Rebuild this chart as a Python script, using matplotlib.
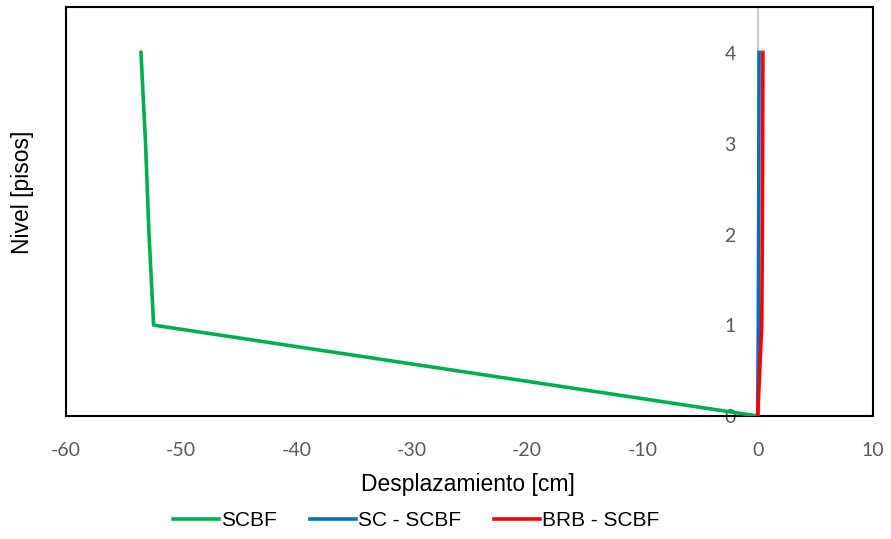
import numpy as np
import matplotlib.pyplot as plt

niveles = [0, 1, 2, 3, 4]
scbf = [0.0, -52.4, -52.8, -53.1, -53.5]
sc_scbf = [0.0, 0.05, 0.08, 0.1, 0.12]
brb_scbf = [0.0, 0.35, 0.4, 0.43, 0.45]
xticks = [-60, -50, -40, -30, -20, -10, 0, 10]
yticks = [0, 1, 2, 3, 4]

fig = plt.figure(figsize=(8.91, 5.39), dpi=100)
ax = fig.add_axes([66/891, 1-416/539, 807/891, 409/539])

ax.axvline(0, color='#BFBFBF', lw=1.2, zorder=1)
ax.plot(scbf, niveles, color='#00B050', lw=2.6, label='SCBF', zorder=3)
ax.plot(sc_scbf, niveles, color='#0070C0', lw=2.6, label='SC - SCBF', zorder=4)
ax.plot(brb_scbf, niveles, color='#FF0000', lw=2.6, label='BRB - SCBF', zorder=5)

ax.set_xlim(-60, 10)
ax.set_ylim(0, 4.5)
ax.set_xticks(xticks)
ax.set_xticklabels([str(v) for v in xticks], fontfamily='Lato', fontsize=14, color='#595959')
ax.tick_params(axis='x', length=0, pad=19)
ax.set_yticks([])
for v in yticks:
    ax.text(-2.4, v - 0.02, str(v), ha='center', va='center', fontfamily='Lato',
            fontsize=14, color='#595959', zorder=2)
for s in ax.spines.values():
    s.set_color('black')
    s.set_linewidth(1.5)

fig.text(468/891, 1-484/539, 'Desplazamiento [cm]', ha='center', va='center',
         fontfamily='Liberation Sans', fontsize=16.5)
fig.text(22/891, 1-192/539, 'Nivel [pisos]', rotation=90, ha='center', va='center',
         fontfamily='Liberation Sans', fontsize=16.5)

fig.legend(loc='center', bbox_to_anchor=(416/891, 1-521/539), ncol=3, frameon=False,
           prop={'family': 'Liberation Sans', 'size': 15}, handlelength=2.2,
           handletextpad=0.1, columnspacing=1.6)

fig.savefig('out.png', dpi=100)
